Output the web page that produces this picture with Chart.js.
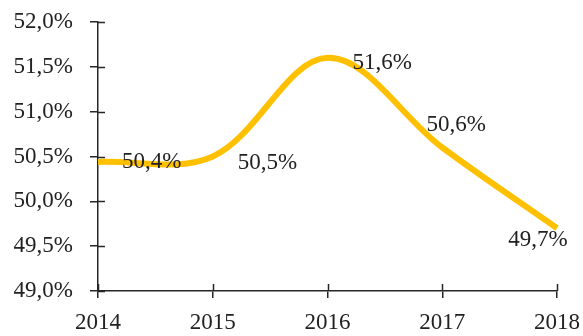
<!DOCTYPE html>
<html>
<head>
<meta charset="utf-8">
<title>Share by year</title>
<script src="https://cdn.jsdelivr.net/npm/chart.js@4.4.1/dist/chart.umd.min.js"></script>
<style>
    html, body { margin: 0; padding: 0; background: #fff; }
    #wrap { width: 583px; height: 336px; }
</style>
</head>
<body>
<div id="wrap"><canvas id="chart"></canvas></div>
<script>
// Chart data
const years = ['2014', '2015', '2016', '2017', '2018'];
const shares = [50.44, 50.5, 51.6, 50.6, 49.7];
const yTicks = [49.0, 49.5, 50.0, 50.5, 51.0, 51.5, 52.0];

const FONT = '"Liberation Serif", "DejaVu Serif", serif';
const FONT_SIZE = 23;
const TEXT_COLOR = '#222222';
const AXIS_COLOR = '#262626';

// Per-label placement relative to its point: [dx, dy, align]
const labelPlacement = [
    [24, 0, 'left'],
    [25, 6, 'left'],
    [25, 5, 'left'],
    [14, -23, 'center'],
    [-19, 12, 'center']
];

function pct(v) {
    return v.toFixed(1).replace('.', ',') + '%';
}

// Ticks crossing both sides of each axis line
const crossTicks = {
    id: 'crossTicks',
    afterDatasetsDraw(chart) {
        const ctx = chart.ctx;
        const x = chart.scales.x;
        const y = chart.scales.y;
        const len = 7;
        ctx.save();
        ctx.strokeStyle = AXIS_COLOR;
        ctx.lineWidth = 1.5;
        ctx.beginPath();
        y.ticks.forEach((t, i) => {
            const py = Math.round(y.getPixelForTick(i)) + 0.5;
            ctx.moveTo(x.left, py);
            ctx.lineTo(x.left + len, py);
        });
        x.ticks.forEach((t, i) => {
            const px = Math.round(x.getPixelForTick(i)) + 0.5;
            ctx.moveTo(px, y.bottom);
            ctx.lineTo(px, y.bottom - len);
        });
        ctx.stroke();
        ctx.restore();
    }
};

// Value labels next to each point
const valueLabels = {
    id: 'valueLabels',
    afterDatasetsDraw(chart) {
        const ctx = chart.ctx;
        const meta = chart.getDatasetMeta(0);
        ctx.save();
        ctx.font = FONT_SIZE + 'px ' + FONT;
        ctx.fillStyle = TEXT_COLOR;
        ctx.textBaseline = 'middle';
        meta.data.forEach((pt, i) => {
            const p = labelPlacement[i];
            ctx.textAlign = p[2];
            ctx.fillText(pct(shares[i]), pt.x + p[0], pt.y + p[1]);
        });
        ctx.restore();
    }
};

new Chart(document.getElementById('chart'), {
    type: 'line',
    data: {
        labels: years,
        datasets: [{
            data: shares,
            borderColor: '#FFC000',
            borderWidth: 6,
            borderCapStyle: 'butt',
            tension: 0.35,
            pointRadius: 0,
            fill: false
        }]
    },
    options: {
        responsive: true,
        maintainAspectRatio: false,
        animation: false,
        layout: {
            padding: { top: 22, right: 26, left: 0, bottom: 0 }
        },
        plugins: {
            legend: { display: false },
            tooltip: { enabled: false }
        },
        scales: {
            x: {
                offset: false,
                grid: {
                    display: true,
                    drawOnChartArea: false,
                    drawTicks: true,
                    tickLength: 7,
                    color: AXIS_COLOR,
                    lineWidth: 1.5
                },
                border: { display: true, color: AXIS_COLOR, width: 1.5 },
                ticks: {
                    color: TEXT_COLOR,
                    font: { family: FONT, size: FONT_SIZE },
                    padding: 11,
                    maxRotation: 0,
                    autoSkip: false
                },
                afterFit(scale) {
                    scale.height = 45;
                    scale.paddingLeft = 0;
                    scale.paddingRight = 0;
                }
            },
            y: {
                min: 49,
                max: 52,
                afterBuildTicks(scale) {
                    scale.ticks = yTicks.map(v => ({ value: v }));
                },
                grid: {
                    display: true,
                    drawOnChartArea: false,
                    drawTicks: true,
                    tickLength: 8,
                    color: AXIS_COLOR,
                    lineWidth: 1.5
                },
                border: { display: true, color: AXIS_COLOR, width: 1.5 },
                ticks: {
                    color: TEXT_COLOR,
                    font: { family: FONT, size: FONT_SIZE },
                    padding: 17,
                    callback: v => pct(v)
                },
                afterFit(scale) {
                    scale.width = 98;
                    scale.paddingTop = 0;
                    scale.paddingBottom = 0;
                }
            }
        }
    },
    plugins: [crossTicks, valueLabels]
});
</script>
</body>
</html>
